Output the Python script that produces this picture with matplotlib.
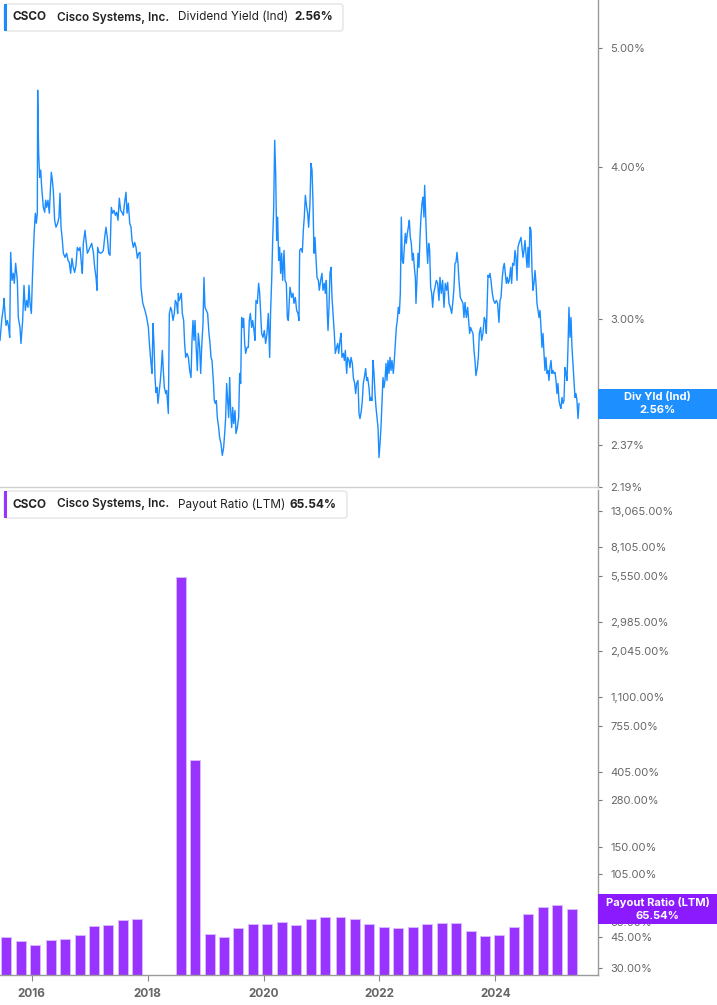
import numpy as np
import pandas as pd
import matplotlib
matplotlib.use("Agg")
import matplotlib.pyplot as plt
from matplotlib.patches import Rectangle, FancyBboxPatch
from matplotlib.transforms import IdentityTransform
from matplotlib.ticker import FixedLocator, FuncFormatter, NullLocator

# ---------------- data ----------------
ticker = "CSCO"
company = "Cisco Systems, Inc."
yield_name = "Dividend Yield (Ind)"
yield_short = "Div Yld (Ind)"
yield_last = 2.56
payout_name = "Payout Ratio (LTM)"
payout_last = 65.54

# dividend yield (%) vs time (decimal year)
yield_dates = [
    2015.453, 2015.482, 2015.511, 2015.522, 2015.539, 2015.557, 2015.580, 2015.603, 2015.620, 2015.637,
    2015.660, 2015.683, 2015.700, 2015.723, 2015.752, 2015.769, 2015.798, 2015.815, 2015.844, 2015.867,
    2015.890, 2015.913, 2015.936, 2015.953, 2015.971, 2015.994, 2016.011, 2016.028, 2016.045, 2016.063,
    2016.080, 2016.097, 2016.103, 2016.120, 2016.137, 2016.155, 2016.172, 2016.201, 2016.224, 2016.241,
    2016.258, 2016.281, 2016.304, 2016.322, 2016.339, 2016.356, 2016.373, 2016.396, 2016.419, 2016.448,
    2016.471, 2016.488, 2016.506, 2016.529, 2016.546, 2016.575, 2016.603, 2016.626, 2016.649, 2016.672,
    2016.695, 2016.718, 2016.741, 2016.764, 2016.787, 2016.811, 2016.834, 2016.857, 2016.874, 2016.891,
    2016.920, 2016.937, 2016.960, 2016.983, 2017.006, 2017.035, 2017.064, 2017.087, 2017.110, 2017.127,
    2017.138, 2017.161, 2017.190, 2017.213, 2017.236, 2017.259, 2017.282, 2017.305, 2017.328, 2017.351,
    2017.374, 2017.397, 2017.420, 2017.443, 2017.466, 2017.489, 2017.512, 2017.535, 2017.558, 2017.581,
    2017.604, 2017.627, 2017.645, 2017.668, 2017.691, 2017.714, 2017.731, 2017.754, 2017.777, 2017.800,
    2017.823, 2017.846, 2017.869, 2017.886, 2017.915, 2017.938,
    2017.955, 2017.984, 2018.013, 2018.036, 2018.059, 2018.076, 2018.093, 2018.110, 2018.128, 2018.145,
    2018.162, 2018.179, 2018.197, 2018.220, 2018.237, 2018.254, 2018.271, 2018.289, 2018.312, 2018.329,
    2018.358, 2018.375, 2018.398, 2018.415, 2018.438, 2018.461, 2018.478, 2018.501, 2018.519, 2018.530,
    2018.547, 2018.565, 2018.582, 2018.599, 2018.622, 2018.639, 2018.657, 2018.680, 2018.703, 2018.726,
    2018.749, 2018.766, 2018.783, 2018.801, 2018.818, 2018.835, 2018.858, 2018.875, 2018.898, 2018.916,
    2018.933, 2018.956, 2018.973, 2018.990, 2019.013, 2019.036, 2019.059, 2019.077, 2019.094, 2019.111,
    2019.134, 2019.151, 2019.169, 2019.186, 2019.203, 2019.226, 2019.243, 2019.266, 2019.289, 2019.312,
    2019.330, 2019.347, 2019.364, 2019.382, 2019.399, 2019.416, 2019.433, 2019.451, 2019.468, 2019.485,
    2019.508, 2019.525, 2019.548, 2019.571, 2019.589, 2019.606, 2019.623, 2019.640, 2019.658, 2019.675,
    2019.692, 2019.715, 2019.738, 2019.755, 2019.773, 2019.796, 2019.813, 2019.836, 2019.853, 2019.870,
    2019.893, 2019.916, 2019.934, 2019.951, 2019.968, 2019.991, 2020.014, 2020.037, 2020.060, 2020.083,
    2020.106, 2020.123, 2020.141, 2020.158, 2020.175, 2020.193, 2020.210, 2020.227, 2020.244, 2020.262,
    2020.279, 2020.296, 2020.313, 2020.331, 2020.354, 2020.371, 2020.394, 2020.411, 2020.428,
    2020.457, 2020.486, 2020.509, 2020.526, 2020.549, 2020.572, 2020.595, 2020.612, 2020.624, 2020.647,
    2020.670, 2020.687, 2020.704, 2020.722, 2020.745, 2020.762, 2020.779, 2020.802, 2020.819, 2020.837,
    2020.854, 2020.871, 2020.888, 2020.906, 2020.923, 2020.946, 2020.963, 2020.986, 2021.009, 2021.026,
    2021.049, 2021.067, 2021.084, 2021.101, 2021.113, 2021.130, 2021.147, 2021.165, 2021.182, 2021.199,
    2021.222, 2021.239, 2021.262, 2021.280, 2021.297, 2021.320, 2021.337, 2021.354, 2021.377, 2021.395,
    2021.412, 2021.435, 2021.452, 2021.475, 2021.492, 2021.510, 2021.533, 2021.550, 2021.573, 2021.590,
    2021.607, 2021.630, 2021.648, 2021.665, 2021.688, 2021.705, 2021.722, 2021.740, 2021.763, 2021.780,
    2021.797, 2021.820, 2021.837, 2021.855, 2021.872, 2021.889, 2021.907, 2021.924, 2021.941, 2021.958,
    2021.976, 2021.993, 2022.010, 2022.027, 2022.045, 2022.062, 2022.079, 2022.096, 2022.114, 2022.131,
    2022.148, 2022.165, 2022.183, 2022.200, 2022.217, 2022.240, 2022.257, 2022.275, 2022.292, 2022.309,
    2022.326, 2022.344, 2022.361, 2022.378, 2022.395, 2022.413, 2022.430, 2022.447, 2022.464, 2022.482,
    2022.499, 2022.516, 2022.533, 2022.551, 2022.568, 2022.585, 2022.603, 2022.620, 2022.631, 2022.648,
    2022.666, 2022.683, 2022.700, 2022.717, 2022.735, 2022.752, 2022.769, 2022.781, 2022.798, 2022.815,
    2022.833, 2022.850, 2022.867, 2022.884, 2022.902, 2022.919, 2022.936,
    2022.959, 2022.982, 2023.005, 2023.028, 2023.045, 2023.068, 2023.091, 2023.114, 2023.137, 2023.160,
    2023.178, 2023.201, 2023.224, 2023.247, 2023.270, 2023.287, 2023.304, 2023.321, 2023.339, 2023.356,
    2023.373, 2023.396, 2023.419, 2023.442, 2023.459, 2023.477, 2023.500, 2023.523, 2023.540, 2023.557,
    2023.574, 2023.592, 2023.615, 2023.632, 2023.649, 2023.666, 2023.690, 2023.707, 2023.724, 2023.747,
    2023.764, 2023.787, 2023.810, 2023.828, 2023.845, 2023.862, 2023.874, 2023.891, 2023.908, 2023.925,
    2023.948, 2023.971, 2023.994, 2024.017, 2024.040, 2024.063, 2024.081, 2024.098, 2024.121, 2024.138,
    2024.155, 2024.173, 2024.190, 2024.207, 2024.224, 2024.242, 2024.265, 2024.282, 2024.299, 2024.322,
    2024.340, 2024.357, 2024.374, 2024.391, 2024.409, 2024.426, 2024.443, 2024.460, 2024.478, 2024.495,
    2024.512, 2024.529, 2024.547, 2024.564, 2024.581, 2024.598, 2024.616, 2024.633, 2024.650, 2024.667,
    2024.685, 2024.702, 2024.719, 2024.736, 2024.754, 2024.771, 2024.788, 2024.805, 2024.823, 2024.840,
    2024.857, 2024.874, 2024.892, 2024.909, 2024.926, 2024.943, 2024.961, 2024.978, 2024.995, 2025.012,
    2025.030, 2025.047, 2025.064, 2025.081, 2025.099, 2025.116, 2025.133, 2025.151, 2025.168, 2025.185,
    2025.202, 2025.220, 2025.237, 2025.254, 2025.271, 2025.289, 2025.306, 2025.323, 2025.340, 2025.358,
    2025.375, 2025.392, 2025.409, 2025.427, 2025.444,
]
yield_values = [
    2.884, 2.994, 3.069, 3.121, 3.034, 2.966, 2.994, 2.955, 2.900, 3.404,
    3.229, 3.272, 3.211, 3.334, 3.229, 3.011, 2.955, 2.867, 2.994, 3.199,
    3.051, 3.109, 3.069, 3.199, 3.092, 3.034, 3.229, 3.398, 3.548, 3.664,
    3.596, 3.664, 4.620, 4.103, 3.921, 3.974, 3.848, 3.705, 3.671, 3.755,
    3.705, 3.755, 3.664, 3.826, 3.958, 3.899, 3.826, 3.616, 3.569, 3.596,
    3.637, 3.805, 3.569, 3.481, 3.398, 3.372, 3.398, 3.353, 3.341, 3.272,
    3.366, 3.309, 3.278, 3.322, 3.436, 3.416, 3.436, 3.334, 3.272, 3.462,
    3.548, 3.481, 3.398, 3.416, 3.436, 3.462, 3.404, 3.309, 3.247, 3.169,
    3.436, 3.404, 3.398, 3.404, 3.416, 3.501, 3.569, 3.501, 3.398, 3.385,
    3.705, 3.664, 3.684, 3.650, 3.671, 3.616, 3.769, 3.684, 3.671, 3.650,
    3.741, 3.812, 3.664, 3.734, 3.596, 3.569, 3.481, 3.436, 3.468, 3.436,
    3.366, 3.398, 3.404, 3.187, 3.097, 3.069,
    3.051, 3.011, 2.955, 2.846, 2.761, 2.710, 2.977, 2.867, 2.689, 2.614,
    2.639, 2.561, 2.609, 2.674, 2.740, 2.830, 2.725, 2.639, 2.609, 2.624,
    2.513, 3.034, 3.069, 3.051, 2.994, 3.034, 3.109, 3.092, 3.034, 3.151,
    3.109, 3.127, 3.151, 3.034, 2.994, 2.867, 2.793, 2.814, 2.793, 2.725,
    2.689, 2.884, 2.994, 2.884, 2.994, 2.867, 2.725, 2.922, 2.846, 2.710,
    2.846, 2.977, 3.247, 3.069, 3.051, 3.034, 2.922, 2.867, 2.793, 2.777,
    2.674, 2.575, 2.561, 2.575, 2.494, 2.447, 2.401, 2.374, 2.322, 2.357,
    2.420, 2.494, 2.659, 2.575, 2.494, 2.689, 2.527, 2.447, 2.542, 2.466,
    2.527, 2.420, 2.447, 2.494, 2.710, 2.659, 3.011, 2.955, 3.006, 2.867,
    2.814, 2.846, 2.846, 2.994, 3.034, 2.955, 2.994, 2.938, 2.884, 3.109,
    3.092, 3.211, 3.151, 3.034, 2.922, 2.900, 2.938, 2.867, 2.922, 3.034,
    2.793, 3.051, 3.229, 3.481, 3.684, 4.204, 3.950, 3.481, 3.637, 3.353,
    3.436, 3.272, 3.398, 3.229, 3.416, 3.229, 3.211, 3.011, 2.994,
    3.187, 3.127, 3.151, 3.092, 3.127, 3.051, 3.034, 2.994, 3.416, 3.429,
    3.404, 3.548, 3.637, 3.790, 3.705, 3.664, 3.569, 3.734, 4.025, 3.974,
    3.734, 3.398, 3.501, 3.372, 3.247, 3.229, 3.169, 3.229, 3.272, 3.169,
    3.211, 3.151, 3.229, 3.034, 2.938, 3.069, 3.272, 3.309, 3.127, 3.034,
    2.922, 2.814, 2.846, 2.867, 2.814, 2.884, 2.922, 2.793, 2.814, 2.777,
    2.830, 2.710, 2.793, 2.777, 2.740, 2.793, 2.761, 2.689, 2.659, 2.609,
    2.659, 2.674, 2.513, 2.489, 2.527, 2.575, 2.659, 2.689, 2.735, 2.674,
    2.689, 2.639, 2.575, 2.590, 2.575, 2.777, 2.710, 2.609, 2.542, 2.494,
    2.447, 2.313, 2.374, 2.447, 2.575, 2.689, 2.639, 2.674, 2.761, 2.674,
    2.777, 2.710, 2.793, 2.725, 2.777, 2.710, 2.777, 2.867, 2.955, 2.994,
    3.069, 3.034, 3.151, 3.637, 3.353, 3.334, 3.436, 3.528, 3.462, 3.528,
    3.569, 3.616, 3.501, 3.462, 3.353, 3.398, 3.309, 3.247, 3.092, 3.229,
    3.398, 3.309, 3.501, 3.637, 3.734, 3.776, 3.637, 3.862, 3.664, 3.462,
    3.334, 3.462, 3.416, 3.187, 3.151, 3.069, 3.151,
    3.187, 3.229, 3.211, 3.109, 3.247, 3.151, 3.229, 3.069, 3.211, 3.169,
    3.217, 3.092, 3.069, 3.034, 3.109, 3.187, 3.334, 3.341, 3.404, 3.334,
    3.229, 3.127, 3.109, 3.092, 3.011, 3.097, 3.011, 3.069, 2.994, 2.922,
    2.955, 2.938, 2.922, 2.830, 2.777, 2.699, 2.740, 2.793, 2.922, 2.955,
    2.884, 2.922, 3.011, 2.994, 2.922, 3.109, 3.260, 3.247, 3.272, 3.229,
    3.151, 3.109, 3.092, 3.109, 3.092, 2.983, 3.109, 3.127, 3.247, 3.309,
    3.334, 3.272, 3.211, 3.247, 3.211, 3.229, 3.309, 3.211, 3.334, 3.322,
    3.416, 3.372, 3.229, 3.436, 3.462, 3.481, 3.501, 3.436, 3.372, 3.416,
    3.481, 3.398, 3.309, 3.436, 3.309, 3.569, 3.548, 3.290, 3.169, 3.211,
    3.290, 3.211, 3.092, 3.051, 3.011, 3.051, 2.955, 2.846, 2.922, 2.814,
    2.725, 2.793, 2.710, 2.725, 2.674, 2.740, 2.777, 2.710, 2.725, 2.710,
    2.715, 2.674, 2.609, 2.659, 2.575, 2.551, 2.537, 2.590, 2.561, 2.575,
    2.740, 2.710, 2.674, 2.846, 3.069, 2.900, 3.011, 2.846, 2.761, 2.674,
    2.590, 2.609, 2.575, 2.489, 2.560,
]

# payout ratio (%) per fiscal quarter end (NaN = not reported / negative)
payout_dates = [
    "2015-07-25", "2015-10-24", "2016-01-23", "2016-04-30", "2016-07-30", "2016-10-29",
    "2017-01-28", "2017-04-29", "2017-07-29", "2017-10-28", "2018-01-27", "2018-04-28",
    "2018-07-28", "2018-10-27", "2019-01-26", "2019-04-27", "2019-07-27", "2019-10-26",
    "2020-01-25", "2020-04-25", "2020-07-25", "2020-10-24", "2021-01-23", "2021-05-01",
    "2021-07-31", "2021-10-30", "2022-01-29", "2022-04-30", "2022-07-30", "2022-10-29",
    "2023-01-28", "2023-04-29", "2023-07-29", "2023-10-28", "2024-01-27", "2024-04-27",
    "2024-07-27", "2024-10-26", "2025-01-25", "2025-04-26",
]
payout_values = [
    45.1, 43.1, 40.7, 43.6, 44.0, 46.6, 52.5, 53.2, 56.8, 57.6,
    np.nan, np.nan, 5460.0, 478.0, 47.0, 45.1, 50.9, 53.9, 53.8, 55.1,
    53.2, 57.4, 59.4, 59.2, 57.6, 53.9, 52.0, 51.1, 52.0, 53.8,
    54.6, 54.5, 49.3, 46.1, 46.6, 52.0, 61.3, 67.6, 69.4, 65.54,
]

yield_ticks = [5.00, 4.00, 3.00, 2.55, 2.37, 2.19]
payout_ticks = [13065, 8105, 5550, 2985, 2045, 1100, 755, 405, 280, 150, 105, 55, 45, 30]
year_ticks = [2016, 2018, 2020, 2022, 2024]

# ---------------- style ----------------
BLUE = "#1a8cff"
BLUE_BOX = "#1e8fff"
PURPLE = "#9933ff"
PURPLE_BOX = "#8c1aff"
GREY_TXT = "#666666"
SPINE = "#9a9a9a"

plt.rcParams["font.family"] = ["Inter", "DejaVu Sans"]

W, H = 717, 1005
fig = plt.figure(figsize=(W / 100, H / 100), dpi=100)
fig.patch.set_facecolor("white")


def fx(px):
    return px / W


def fy(py):
    return 1 - py / H


ax1 = fig.add_axes([0, fy(487), fx(598), 487 / H])
ax2 = fig.add_axes([0, fy(975), fx(598), (975 - 490) / H])

XMIN, XMAX = 2015.453, 2025.772

# ---- top panel: dividend yield line ----
ax1.plot(yield_dates, yield_values, color=BLUE, lw=1.0, solid_joinstyle="round")
ax1.set_yscale("log")
ax1.set_ylim(2.188, 5.475)
ax1.set_xlim(XMIN, XMAX)

# ---- bottom panel: payout ratio bars ----
pd_dates = pd.to_datetime(payout_dates)
pd_dec = pd_dates.year + (pd_dates.dayofyear - 1) / np.where(pd_dates.is_leap_year, 366, 365)
pv = np.array(payout_values, dtype=float)
mask = ~np.isnan(pv)
ax2.set_yscale("log")
ax2.bar(np.asarray(pd_dec)[mask], pv[mask] - 1.0, bottom=1.0, width=0.172,
        color=PURPLE, edgecolor="#d8b8ff", linewidth=0.7, zorder=2)
ax2.set_ylim(27.3, 17383)
ax2.set_xlim(XMIN, XMAX)

for ax, ticks, fmt in [
    (ax1, yield_ticks, lambda v, p: f"{v:.2f}%"),
    (ax2, payout_ticks, lambda v, p: f"{v:,.2f}%"),
]:
    ax.yaxis.tick_right()
    ax.yaxis.set_major_locator(FixedLocator(ticks))
    ax.yaxis.set_major_formatter(FuncFormatter(fmt))
    ax.yaxis.set_minor_locator(NullLocator())
    ax.tick_params(axis="y", which="major", direction="out", length=3, width=0.8,
                   color="#777777", labelcolor=GREY_TXT, labelsize=8, pad=6)
    for s in ["left", "top"]:
        ax.spines[s].set_visible(False)
    ax.spines["right"].set_color(SPINE)
    ax.spines["right"].set_linewidth(1.0)
    ax.set_facecolor("none")

ax1.spines["bottom"].set_color("#d0d0d0")
ax1.spines["bottom"].set_linewidth(1.0)
ax1.set_xticks([])

ax2.spines["bottom"].set_color(SPINE)
ax2.spines["bottom"].set_linewidth(1.0)
ax2.set_xticks(year_ticks)
ax2.set_xticklabels([str(y) for y in year_ticks], fontweight="bold")
ax2.xaxis.set_minor_locator(NullLocator())
ax2.tick_params(axis="x", direction="out", length=4, width=0.8, color="#888888",
                labelcolor=GREY_TXT, labelsize=8.5, pad=5)

# ---- right-hand value boxes ----
def value_box(ax, value, line1, line2, color):
    y_disp = ax.transData.transform((XMIN, value))[1]
    x0 = 598
    h = 30
    rect = Rectangle((x0, y_disp - h / 2), W - x0, h, transform=IdentityTransform(),
                     facecolor=color, edgecolor="none", zorder=10)
    fig.add_artist(rect)
    cx = (x0 + W) / 2
    fig.text(cx / W, (y_disp + 6.5) / H, line1, ha="center", va="center", color="white",
             fontsize=8, fontweight="bold", zorder=11)
    fig.text(cx / W, (y_disp - 6.5) / H, line2, ha="center", va="center", color="white",
             fontsize=8, fontweight="bold", zorder=11)


value_box(ax1, yield_last, yield_short, f"{yield_last:.2f}%", BLUE_BOX)
value_box(ax2, payout_last, payout_name, f"{payout_last:.2f}%", PURPLE_BOX)

# ---- header boxes ----
def header(top_px, width_px, color, metric, value_txt, value_x):
    h = 27
    box = FancyBboxPatch((4, H - top_px - h), width_px, h,
                         boxstyle="round,pad=0,rounding_size=3",
                         transform=IdentityTransform(), facecolor="white",
                         edgecolor="#e4e4e4", linewidth=1.0, zorder=12)
    fig.add_artist(box)
    bar = Rectangle((4, H - top_px - h), 3, h, transform=IdentityTransform(),
                    facecolor=color, edgecolor="none", zorder=13)
    fig.add_artist(bar)
    yc = fy(top_px + h / 2)
    kw = dict(va="center", ha="left", color="#222222", fontsize=8.5, zorder=14)
    fig.text(fx(13), yc, ticker, fontweight="bold", **kw)
    fig.text(fx(57), yc, company, fontweight="semibold", **kw)
    fig.text(fx(178), yc, metric, fontweight="normal", **kw)
    fig.text(fx(value_x), yc, value_txt, fontweight="bold", **kw)


header(4, 339, BLUE, yield_name, f"{yield_last:.2f}%", 294)
header(491, 343, PURPLE, payout_name, f"{payout_last:.2f}%", 290)

fig.savefig("out.png", dpi=100, facecolor="white")
